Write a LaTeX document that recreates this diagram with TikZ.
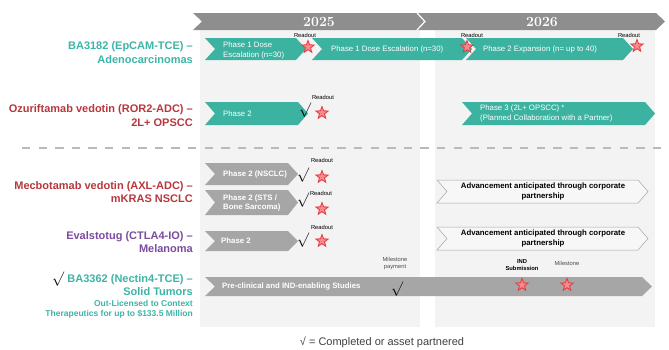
\documentclass[tikz,border=0pt]{standalone}
\usepackage{fontspec}
\setsansfont{Liberation Sans}
\usetikzlibrary{shapes.geometric}
\definecolor{tealbar}{HTML}{3CB2A0}
\definecolor{tealtext}{HTML}{3DB4A5}
\definecolor{redtext}{HTML}{B7373D}
\definecolor{purpletext}{HTML}{7B4B9E}
\definecolor{headgrey}{HTML}{8E8E8E}
\definecolor{bargrey}{HTML}{A6A6A6}
\definecolor{panelgrey}{HTML}{F3F3F3}
\definecolor{starred}{HTML}{E8383D}
\definecolor{starfill}{HTML}{F58A8C}
% chevron bar: [style]{left x}{tip x}{top y}{bottom y}
\newcommand{\chevbar}[5][]{\path[#1] (#2,#4) -- ({#3-10},#4) -- (#3,{(#4+#5)/2}) -- ({#3-10},#5) -- (#2,#5) -- ({#2+10},{(#4+#5)/2}) -- cycle;}

\begin{document}
\begin{tikzpicture}[x=1pt,y=-1pt,font=\sffamily,
  drug/.style={anchor=east,align=right,inner sep=0pt,font=\sffamily\bfseries\fontsize{11}{13.5}\selectfont},
  bartext/.style={anchor=west,align=left,inner sep=0pt,text=white,font=\sffamily\fontsize{7.8}{10}\selectfont},
  greytext/.style={anchor=west,align=left,inner sep=0pt,text=white,font=\sffamily\bfseries\fontsize{7.8}{9.2}\selectfont},
  advtext/.style={align=center,inner sep=0pt,font=\sffamily\bfseries\fontsize{7.8}{9.3}\selectfont},
  readout/.style={inner sep=0pt,align=center,font=\sffamily\fontsize{5.8}{7}\selectfont},
  mile/.style={star,star points=5,star point ratio=2.4,minimum size=13pt,inner sep=0pt,draw=starred,fill=starfill,line width=0.8pt},
  done/.style={inner sep=0pt,font=\fontsize{14.4}{14.4}\selectfont}]
\useasboundingbox (0,0) rectangle (669,349);
% header and year panels
\fill[panelgrey] (200,30) rectangle (420,327);
\fill[panelgrey] (435,30) rectangle (655,327);
\fill[headgrey] (193,13) -- (656,13) -- (665,21.5) -- (656,30) -- (193,30) -- (202,21.5) -- cycle;
\draw[white,line width=1.2pt] (417,13) -- (425,21.5) -- (417,30);
\node[text=white,font=\rmfamily\bfseries\fontsize{14}{14}\selectfont] (y2025) at (319,21.5) {2025};
\node[text=white,font=\rmfamily\bfseries\fontsize{14}{14}\selectfont] (y2026) at (542,21.5) {2026};
\draw[black!27,line width=2.5pt,dash pattern=on 8.3pt off 8.3pt] (22,148) -- (669,148);

% drug labels
\node[drug,text=tealtext] (ba3182) at (193,52.5) {BA3182 (EpCAM-TCE) --\\Adenocarcinomas};
\node[drug,text=redtext] (ozu) at (193,115.5) {Ozuriftamab vedotin (ROR2-ADC) --\\2L+ OPSCC};
\node[drug,text=redtext] (mec) at (193,192) {Mecbotamab vedotin (AXL-ADC) --\\mKRAS NSCLC};
\node[drug,text=purpletext] (eval) at (193,242) {Evalstotug (CTLA4-IO) --\\Melanoma};
\node[drug,text=tealtext,font=\sffamily\bfseries\fontsize{11}{13}\selectfont] (ba3362) at (193,285.5) {BA3362 (Nectin4-TCE) --\\Solid Tumors};
\node[anchor=east,align=right,inner sep=0pt,text=tealtext,font=\sffamily\bfseries\fontsize{8.5}{10}\selectfont] (lic) at (193,309) {Out-Licensed to Context\\Therapeutics for up to \$133.5 Million};
\node[done] (c0) at (58,279) {$\surd$};

% BA3182
\chevbar[fill=tealbar]{205}{306}{38}{60}
\chevbar[fill=tealbar]{312}{472}{38}{60}
\chevbar[fill=tealbar]{466}{633}{38}{60}
\node[bartext] (p1a) at (223,50.5) {Phase 1 Dose\\Escalation (n=30)};
\node[bartext] (p1b) at (331,49) {Phase 1 Dose Escalation (n=30)};
\node[bartext] (p2e) at (483,49) {Phase 2 Expansion (n= up to 40)};
\node[mile] (s1) at (308,47) {};
\node[mile] (s2) at (467,47) {};
\node[mile] (s3) at (637,46) {};
\node[readout] (r1) at (305,35.5) {Readout};
\node[readout] (r2) at (472,35.5) {Readout};
\node[readout] (r3) at (629,35.5) {Readout};

% ozuriftamab
\chevbar[fill=tealbar]{205}{308}{102}{125}
\chevbar[fill=tealbar]{462}{655}{102}{125}
\node[bartext] (ph2o) at (223,113.5) {Phase 2};
\node[bartext] (ph3o) at (480,113) {Phase 3 (2L+ OPSCC) *\\(Planned Collaboration with a Partner)};
\node[done] (c1) at (305,110) {$\surd$};
\node[mile] (s4) at (322,113) {};
\node[readout] (r4) at (323,97) {Readout};

% mecbotamab
\chevbar[fill=bargrey]{205}{298}{163}{185}
\chevbar[fill=bargrey]{205}{298}{190}{215}
\node[greytext] (nsclc) at (223,174) {Phase 2 (NSCLC)};
\node[greytext] (sts) at (223,203) {Phase 2 (STS /\\Bone Sarcoma)};
\node[done] (c2) at (303,175) {$\surd$};
\node[done] (c3) at (303,200) {$\surd$};
\node[mile] (s5) at (322,177) {};
\node[mile] (s6) at (322,209) {};
\node[readout] (r5) at (322,160) {Readout};
\node[readout] (r6) at (321,193) {Readout};
\chevbar[draw=black!35,fill=black!3,line width=0.5pt]{437}{648}{180}{203}
\node[advtext] (adv1) at (543,191.5) {Advancement anticipated through corporate\\partnership};

% evalstotug
\chevbar[fill=bargrey]{205}{298}{231}{251}
\node[greytext] (ph2e) at (221,241) {Phase 2};
\node[done] (c4) at (303,240) {$\surd$};
\node[mile] (s7) at (322,241) {};
\node[readout] (r7) at (322,227) {Readout};
\chevbar[draw=black!35,fill=black!3,line width=0.5pt]{437}{648}{227}{250}
\node[advtext] (adv2) at (543,238.5) {Advancement anticipated through corporate\\partnership};

% BA3362
\chevbar[fill=bargrey]{205}{652}{277}{296}
\node[greytext] (pre) at (222,286.5) {Pre-clinical and IND-enabling Studies};
\node[done] (c5) at (397,289) {$\surd$};
\node[readout,text=black!70] (mp) at (395,263) {Milestone\\payment};
\node[mile] (s8) at (522,285) {};
\node[mile] (s9) at (567,285) {};
\node[readout,font=\sffamily\bfseries\fontsize{5.8}{6.8}\selectfont] (ind) at (522,265) {IND\\Submission};
\node[readout,text=black!70] (ms) at (567,263) {Milestone};

\node[text=black!75,inner sep=0pt,font=\sffamily\fontsize{11}{12}\selectfont] (note) at (382,342) {√ = Completed or asset partnered};
\end{tikzpicture}
\end{document}
